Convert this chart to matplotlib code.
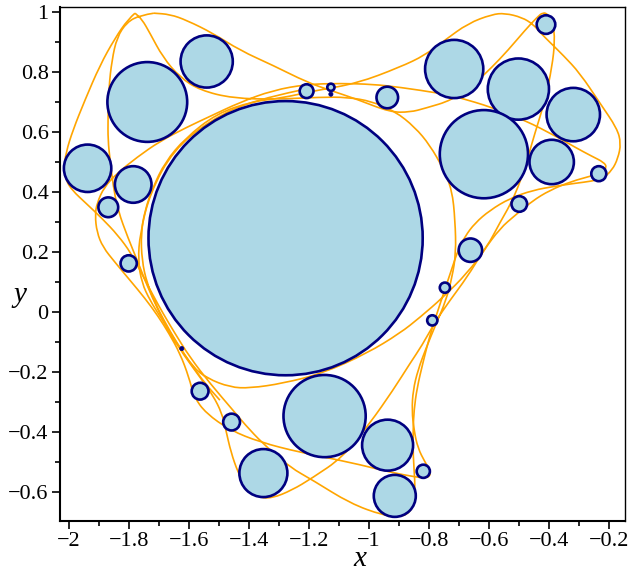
import matplotlib
matplotlib.use("Agg")
import matplotlib.pyplot as plt
from matplotlib.patches import Circle, PathPatch
from matplotlib.path import Path
from matplotlib.ticker import MultipleLocator, FuncFormatter

# ---- circles (centre x, centre y, radius) ----
circle_x = [-1.278, -1.739, -1.541, -1.938, -1.786, -1.869, -1.801, -1.208, -1.127, -0.939,
            -0.716, -0.502, -0.319, -0.617, -0.391, -0.410, -0.234, -0.499, -0.662, -0.747,
            -0.789, -1.148, -0.938, -0.914, -0.819, -1.352, -1.563, -1.458]
circle_y = [0.247, 0.701, 0.836, 0.480, 0.426, 0.350, 0.163, 0.737, 0.750, 0.716,
            0.811, 0.744, 0.659, 0.527, 0.501, 0.959, 0.462, 0.361, 0.207, 0.082,
            -0.027, -0.346, -0.443, -0.612, -0.530, -0.536, -0.263, -0.366]
circle_r = [0.457, 0.133, 0.087, 0.079, 0.061, 0.033, 0.027, 0.023, 0.012, 0.036,
            0.097, 0.102, 0.089, 0.147, 0.074, 0.031, 0.025, 0.026, 0.039, 0.017,
            0.017, 0.137, 0.085, 0.070, 0.022, 0.080, 0.028, 0.028]

# tiny filled points
dot_x = [-1.127, -1.624]
dot_y = [0.727, -0.121]
dot_r = [0.007, 0.007]

# ---- orange curves ----
curveA_x = [-1.780, -1.803, -1.847, -1.897, -1.947, -1.987, -2.010, -2.017, -2.010, -1.990,
            -1.943, -1.890, -1.837, -1.793, -1.760, -1.720, -1.687, -1.647, -1.597, -1.530,
            -1.453, -1.397, -1.340, -1.263, -1.187, -1.063, -0.953, -0.897, -0.863, -0.847,
            -0.847, -0.853, -0.853, -0.850, -0.840, -0.820, -0.797, -0.770, -0.740, -0.720,
            -0.703, -0.680, -0.647, -0.597, -0.530, -0.453, -0.380, -0.313, -0.257, -0.220,
            -0.190, -0.170, -0.160, -0.173, -0.230, -0.297, -0.353, -0.397, -0.430, -0.453,
            -0.490, -0.547, -0.590, -0.670, -0.747, -0.813, -0.897, -1.040, -1.173, -1.297,
            -1.387, -1.507, -1.613, -1.680, -1.720, -1.747, -1.760, -1.757, -1.740, -1.713,
            -1.680, -1.640, -1.587, -1.540, -1.463, -1.397, -1.287, -1.153, -1.007, -0.897,
            -0.830, -0.753, -0.673, -0.607, -0.563, -0.530, -0.503, -0.480, -0.447, -0.413,
            -0.390, -0.380, -0.387, -0.403, -0.420, -0.440, -0.480, -0.537, -0.590, -0.647,
            -0.723, -0.813, -0.863, -0.930, -1.040, -1.130, -1.207, -1.320, -1.430, -1.520,
            -1.607, -1.663, -1.717]
curveA_y = [0.997, 0.977, 0.913, 0.823, 0.707, 0.607, 0.533, 0.480, 0.440, 0.407,
            0.363, 0.313, 0.257, 0.197, 0.133, 0.057, -0.003, -0.070, -0.150, -0.237,
            -0.327, -0.393, -0.450, -0.517, -0.560, -0.637, -0.677, -0.683, -0.667, -0.627,
            -0.560, -0.477, -0.393, -0.327, -0.253, -0.167, -0.077, 0.007, 0.097, 0.157,
            0.207, 0.253, 0.297, 0.340, 0.380, 0.407, 0.420, 0.430, 0.437, 0.447,
            0.473, 0.513, 0.563, 0.613, 0.697, 0.797, 0.857, 0.900, 0.933, 0.960,
            0.983, 0.997, 0.993, 0.963, 0.907, 0.857, 0.817, 0.763, 0.740, 0.713,
            0.703, 0.663, 0.580, 0.500, 0.417, 0.340, 0.263, 0.173, 0.097, 0.030,
            -0.033, -0.103, -0.183, -0.220, -0.250, -0.253, -0.237, -0.203, -0.137, -0.070,
            -0.017, 0.050, 0.130, 0.217, 0.300, 0.357, 0.417, 0.483, 0.597, 0.707,
            0.817, 0.907, 0.963, 0.993, 1.000, 0.983, 0.940, 0.873, 0.817, 0.763,
            0.707, 0.680, 0.667, 0.667, 0.710, 0.740, 0.767, 0.823, 0.873, 0.930,
            0.973, 0.993, 0.997]

curveB_x = [-1.717, -1.763, -1.807, -1.840, -1.857, -1.867, -1.870, -1.870, -1.863, -1.853,
            -1.837, -1.803, -1.770, -1.740, -1.703, -1.663, -1.617, -1.563, -1.520, -1.490,
            -1.477, -1.460, -1.437, -1.410, -1.370, -1.323, -1.257, -1.190, -1.087, -0.997,
            -0.920, -0.863, -0.823, -0.780, -0.730, -0.673, -0.620, -0.563, -0.513, -0.457,
            -0.397, -0.323, -0.263, -0.223, -0.207, -0.217, -0.257, -0.313, -0.370, -0.480,
            -0.590, -0.703, -0.763, -0.897, -0.987, -1.097, -1.207, -1.320, -1.430, -1.530,
            -1.607, -1.697, -1.773, -1.840, -1.883, -1.907, -1.913, -1.907, -1.887, -1.847,
            -1.797, -1.747, -1.703, -1.667, -1.630, -1.600, -1.583, -1.543, -1.463, -1.363,
            -1.230, -1.063, -0.930, -0.840, -0.803, -0.793, -0.813, -0.837, -0.850, -0.857,
            -0.853, -0.837, -0.810, -0.777, -0.743, -0.723, -0.710, -0.713, -0.723, -0.753,
            -0.797, -0.847, -0.913, -0.990, -1.073, -1.163, -1.307, -1.453, -1.563, -1.630,
            -1.687, -1.730, -1.757, -1.780]
curveB_y = [0.997, 0.990, 0.967, 0.917, 0.840, 0.750, 0.650, 0.573, 0.507, 0.423,
            0.340, 0.247, 0.167, 0.090, 0.007, -0.070, -0.143, -0.217, -0.277, -0.337,
            -0.393, -0.467, -0.533, -0.587, -0.617, -0.620, -0.593, -0.553, -0.483, -0.370,
            -0.260, -0.170, -0.110, -0.033, 0.040, 0.117, 0.203, 0.280, 0.323, 0.370,
            0.407, 0.437, 0.453, 0.467, 0.483, 0.500, 0.520, 0.550, 0.583, 0.640,
            0.683, 0.717, 0.730, 0.750, 0.760, 0.763, 0.760, 0.740, 0.700, 0.653,
            0.617, 0.570, 0.517, 0.463, 0.417, 0.363, 0.323, 0.267, 0.217, 0.167,
            0.107, 0.047, -0.013, -0.070, -0.137, -0.217, -0.283, -0.337, -0.393, -0.433,
            -0.467, -0.500, -0.533, -0.550, -0.553, -0.533, -0.500, -0.453, -0.393, -0.327,
            -0.260, -0.193, -0.120, -0.040, 0.040, 0.117, 0.197, 0.307, 0.407, 0.480,
            0.557, 0.617, 0.670, 0.703, 0.717, 0.717, 0.710, 0.713, 0.740, 0.783,
            0.850, 0.930, 0.977, 0.997]

curveC_x = [-1.230, -1.387, -1.530, -1.653, -1.730, -1.763, -1.770, -1.757, -1.730, -1.697,
            -1.647, -1.597, -1.547, -1.497]
curveC_y = [0.740, 0.707, 0.640, 0.540, 0.397, 0.263, 0.173, 0.097, 0.040, -0.013,
            -0.093, -0.167, -0.237, -0.293]

curves = [(curveA_x, curveA_y), (curveB_x, curveB_y), (curveC_x, curveC_y)]

x_ticks = [-2, -1.8, -1.6, -1.4, -1.2, -1, -0.8, -0.6, -0.4, -0.2]
y_ticks = [-0.6, -0.4, -0.2, 0, 0.2, 0.4, 0.6, 0.8, 1]

# ---------------------------------------------------------------
plt.rcParams['font.family'] = ['Liberation Serif', 'DejaVu Serif']
fig = plt.figure(figsize=(6.29, 5.68), dpi=100)
ax = fig.add_axes([0.0949, 0.0833, 0.8987, 0.9039])

ORANGE = '#FFA500'
NAVY = '#000080'
FILL = '#ADD8E6'


def smooth_path(xs, ys):
    verts = [(xs[0], ys[0])]
    codes = [Path.MOVETO]
    for i in range(1, len(xs) - 1):
        verts.append((xs[i], ys[i]))
        verts.append(((xs[i] + xs[i + 1]) / 2.0, (ys[i] + ys[i + 1]) / 2.0))
        codes += [Path.CURVE3, Path.CURVE3]
    verts.append((xs[-1], ys[-1]))
    codes.append(Path.LINETO)
    return Path(verts, codes)


for cx, cy in curves:
    ax.add_patch(PathPatch(smooth_path(cx, cy), facecolor='none', edgecolor=ORANGE,
                           lw=1.2, zorder=2))

for x, y, r in zip(circle_x, circle_y, circle_r):
    ax.add_patch(Circle((x, y), r, facecolor=FILL, edgecolor=NAVY, lw=1.9, zorder=3))
for x, y, r in zip(dot_x, dot_y, dot_r):
    ax.add_patch(Circle((x, y), r, facecolor=NAVY, edgecolor=NAVY, lw=0.5, zorder=4))

ax.set_xlim(-2.031, -0.1467)
ax.set_ylim(-0.6947, 1.0167)

ax.set_xticks(x_ticks)
ax.set_yticks(y_ticks)
ax.xaxis.set_minor_locator(MultipleLocator(0.1))
ax.yaxis.set_minor_locator(MultipleLocator(0.1))


def fmt(v, pos=None):
    s = ('%.1f' % v)
    if s.endswith('.0'):
        s = s[:-2]
    if s == '-0':
        s = '0'
    return s.replace('-', '\u2212')


ax.xaxis.set_major_formatter(FuncFormatter(fmt))
ax.yaxis.set_major_formatter(FuncFormatter(fmt))
ax.tick_params(axis='both', which='major', direction='out', length=6, width=1.2,
               labelsize=16, pad=2)
ax.tick_params(axis='both', which='minor', direction='out', length=3.5, width=1.2)
ax.tick_params(top=False, right=False)
for s in ax.spines.values():
    s.set_linewidth(1.0)
ax.spines['left'].set_linewidth(1.5)
ax.spines['bottom'].set_linewidth(1.5)

ax.set_xlabel('x', fontstyle='italic', fontsize=21, va='top')
ax.set_ylabel('y', fontstyle='italic', fontsize=21, rotation=0, va='center', ha='center')
ax.xaxis.set_label_coords(0.531, -0.050)
ax.yaxis.set_label_coords(-0.070, 0.440)

fig.savefig('out.png', dpi=100)
